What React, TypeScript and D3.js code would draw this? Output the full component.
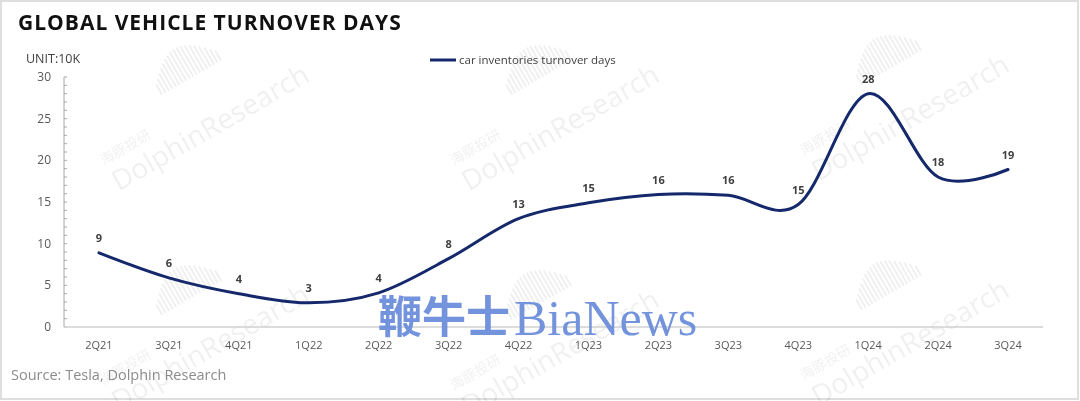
import React from "react";
import * as d3 from "d3";

const categories = ["2Q21","3Q21","4Q21","1Q22","2Q22","3Q22","4Q22","1Q23","2Q23","3Q23","4Q23","1Q24","2Q24","3Q24"];
const turnoverDays = [8.9, 5.9, 4.0, 2.9, 4.1, 8.2, 13.0, 14.9, 15.9, 15.8, 14.7, 28.0, 18.0, 18.9];
const yTicks = [0, 5, 10, 15, 20, 25, 30];
const seriesName = "car inventories turnover days";
const title = "GLOBAL VEHICLE TURNOVER DAYS";
const unitLabel = "UNIT:10K";
const sourceText = "Source: Tesla, Dolphin Research";

const W = 1080, H = 401;
const left = 64, right = 1043, top = 77, bottom = 327;
const FONT = "'Open Sans', 'Noto Sans', sans-serif";

export default function App() {
  const x = d3.scaleBand<string>().domain(categories).range([left, right]);
  const y = d3.scaleLinear().domain([0, 30]).range([bottom, top]);
  const cx = (c: string) => (x(c) as number) + x.bandwidth() / 2;
  const pts: [number, number][] = categories.map((c, i) => [cx(c), y(turnoverDays[i])]);
  const line = d3.line().curve(d3.curveCatmullRom.alpha(0))(pts) || "";
  const minor = d3.range(0, 31, 1);

  const watermarks = [
    { x: 190, y: 125 }, { x: 540, y: 125 }, { x: 890, y: 115 },
    { x: 190, y: 345 }, { x: 540, y: 350 }, { x: 890, y: 340 },
  ];

  return (
    <svg width={W} height={H} style={{ position: "absolute", left: 0, top: 0, display: "block" }} fontFamily={FONT}>
      <rect x={0} y={0} width={W} height={H} fill="#ffffff" />
      <rect x={1} y={1} width={W - 3} height={H - 3} fill="none" stroke="#dedede" strokeWidth={2} />

      {/* watermarks */}
      <g opacity={0.06} fill="#000">
        {watermarks.map((w, i) => (
          <g key={i} transform={`translate(${w.x},${w.y}) rotate(-30)`}>
            {d3.range(18).map(k => (
              <rect key={k} x={-10 + k * 4} y={-52 - Math.sin((k / 17) * Math.PI) * 22} width={2} height={12 + Math.sin((k / 17) * Math.PI) * 22} />
            ))}
            <text x={-95} y={-8} fontSize={14} fontFamily="'Noto Sans CJK SC', sans-serif">海豚投研</text>
            <text x={-95} y={22} fontSize={28}>DolphinResearch</text>
          </g>
        ))}
      </g>

      <text x={18} y={30} fontSize={21} fontWeight={700} letterSpacing={1} fill="#111">{title}</text>
      <text x={26} y={63} fontSize={12.5} fill="#404040">{unitLabel}</text>

      {/* legend */}
      <line x1={430} x2={456} y1={60} y2={60} stroke="#14286b" strokeWidth={3} />
      <text x={459} y={64} fontSize={11.5} fill="#404040">{seriesName}</text>

      {/* axes */}
      <line x1={left} x2={left} y1={top} y2={bottom} stroke="#a6a6a6" strokeWidth={1} />
      {minor.map(v => (
        <line key={v} x1={left} x2={left + 3} y1={y(v)} y2={y(v)} stroke="#a6a6a6" strokeWidth={1} />
      ))}
      <line x1={left} x2={right} y1={bottom} y2={bottom} stroke="#d0d0d0" strokeWidth={1.5} />
      {yTicks.map(v => (
        <text key={v} x={51} y={y(v) + 4} fontSize={12} textAnchor="end" fill="#595959">{v}</text>
      ))}
      {categories.map(c => (
        <text key={c} x={cx(c)} y={349} fontSize={11} textAnchor="middle" fill="#595959">{c}</text>
      ))}

      {/* series */}
      <path d={line} fill="none" stroke="#14286b" strokeWidth={3} strokeLinecap="round" />
      {categories.map((c, i) => (
        <text key={c} x={cx(c)} y={y(turnoverDays[i]) - 11} fontSize={11} fontWeight={700} textAnchor="middle" fill="#404040">
          {Math.round(turnoverDays[i])}
        </text>
      ))}

      {/* BiaNews watermark */}
      <g fill="#6d8edc" opacity={0.95}>
        <text x={378} y={333} fontSize={44} fontWeight={700} fontFamily="'Noto Sans CJK SC', sans-serif">鞭牛士</text>
        <text x={514} y={335} fontSize={50} fontFamily="'Liberation Serif', 'DejaVu Serif', serif">BiaNews</text>
      </g>

      <text x={11} y={380} fontSize={14.5} fill="#8c8c8c">{sourceText}</text>
    </svg>
  );
}
